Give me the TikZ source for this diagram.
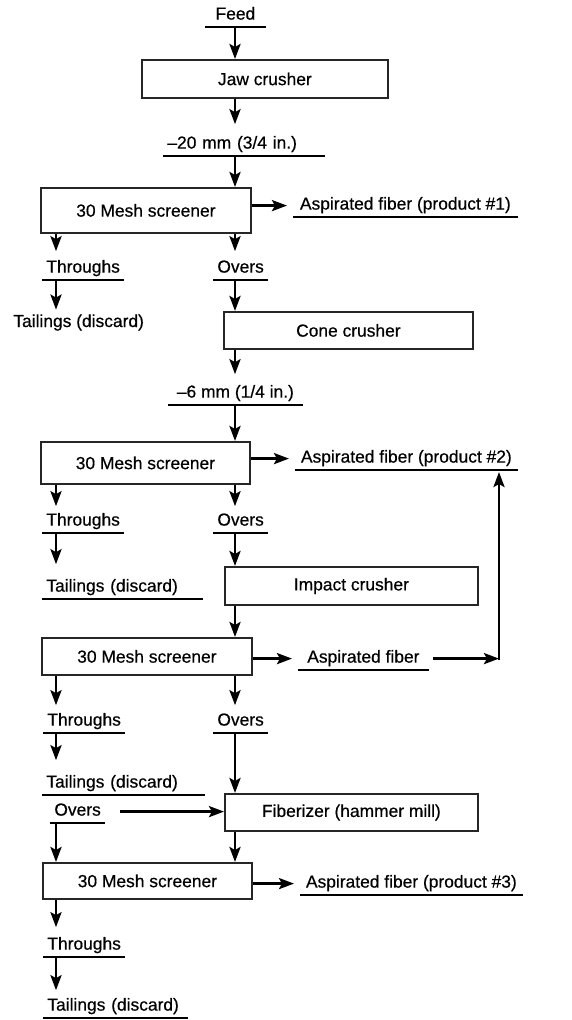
\documentclass[tikz,border=0pt]{standalone}
\usepackage{fontspec}
\setmainfont{Liberation Sans}[FakeBold=0.5]
\usetikzlibrary{arrows.meta}
\newcommand{\fs}{\fontsize{17.4}{20}\selectfont}
\tikzset{every path/.style={line width=2.8pt}, flow/.style={-{Stealth[length=15pt,width=11pt,inset=3pt]}},
  unit/.style={draw=black!85, line width=1.8pt, inner sep=0pt, anchor=north west, font=\fs},
  uline/.style={-, line width=1.6pt},
  lbl/.style={anchor=south west, inner xsep=3pt, inner ysep=1pt, text height=13pt, text depth=5pt, font=\fs,
    append after command={(\tikzlastnode.south west) edge[uline] (\tikzlastnode.south east)}},
  plain/.style={anchor=base west, inner sep=0pt, text height=13pt, text depth=5pt, font=\fs}}

\begin{document}
\begin{tikzpicture}[x=1pt, y=-1pt]
   \useasboundingbox (0,0) rectangle (571,1020);
   \coordinate (trunk) at (235,0);
   \coordinate (lcol) at (56,0);
   \coordinate (bend) at (499,0);

   \node[lbl, minimum width=58pt] (feed) at (205,27) {Feed};
   \node[unit, minimum width=246pt, minimum height=38pt] (jaw) at (141,59) {Jaw crusher};
   \node[lbl, text width=153pt] (mm20) at (163,156) {–20 mm (3/4 in.)};
   \node[unit, minimum width=210pt, minimum height=45pt] (scr1) at (40,187) {30 Mesh screener};
   \node[lbl, minimum width=222pt] (asp1) at (293,217) {Aspirated fiber (product \#1)};
   \node[lbl, minimum width=71pt] (thr1) at (42,280) {Throughs};
   \node[lbl, minimum width=45pt] (ov1) at (213,280) {Overs};
   \node[plain] (tail1) at (12,327) {Tailings (discard)};
   \node[unit, minimum width=249pt, minimum height=37pt] (cone) at (223,311) {Cone crusher};
   \node[lbl, minimum width=132pt] (mm6) at (168,405) {–6 mm (1/4 in.)};
   \node[unit, minimum width=209pt, minimum height=42pt] (scr2) at (40,441) {30 Mesh screener};
   \node[lbl, minimum width=220pt] (asp2) at (295,470) {Aspirated fiber (product \#2)};
   \node[lbl, minimum width=71pt] (thr2) at (42,533) {Throughs};
   \node[lbl, minimum width=45pt] (ov2) at (213,533) {Overs};
   \node[lbl, text width=152pt] (tail2) at (42,599) {Tailings (discard)};
   \node[unit, minimum width=253pt, minimum height=38pt] (impact) at (224,566) {Impact crusher};
   \node[unit, minimum width=210pt, minimum height=37pt] (scr3) at (41,637) {30 Mesh screener};
   \node[lbl, minimum width=128pt] (asp3) at (298,670) {Aspirated fiber};
   \node[lbl, minimum width=71pt] (thr3) at (43,733) {Throughs};
   \node[lbl, minimum width=45pt] (ov3) at (213,733) {Overs};
   \node[lbl, text width=154pt] (tail3) at (42,795) {Tailings (discard)};
   \node[unit, minimum width=253pt, minimum height=37pt] (fib) at (224,793) {Fiberizer (hammer mill)};
   \node[lbl, minimum width=45pt] (ov4) at (50,823) {Overs};
   \node[unit, minimum width=209pt, minimum height=36pt] (scr4) at (42,862) {30 Mesh screener};
   \node[lbl, minimum width=220pt] (asp4) at (300,895) {Aspirated fiber (product \#3)};
   \node[lbl, minimum width=72pt] (thr4) at (43,957) {Throughs};
   \node[lbl, text width=136pt] (tail4) at (43,1018) {Tailings (discard)};

   \draw[flow] (feed.south -| trunk) -- (jaw.north -| trunk);
   \draw[flow, shorten >=9pt] (jaw.south -| trunk) -- (mm20.north -| trunk);
   \draw[flow] (mm20.south -| trunk) -- (scr1.north -| trunk);
   \draw[flow, shorten >=6pt] (scr1.east |- asp1.west) -- (asp1.west);
   \draw[flow, shorten >=6pt] (scr1.south -| lcol) -- (thr1.north -| lcol);
   \draw[flow, shorten >=6pt] (scr1.south -| trunk) -- (ov1.north -| trunk);
   \draw[flow, shorten >=3pt] (thr1.south -| lcol) -- (tail1.north -| lcol);
   \draw[flow] (ov1.south -| trunk) -- (cone.north -| trunk);
   \draw[flow, shorten >=8pt] (cone.south -| trunk) -- (mm6.north -| trunk);
   \draw[flow] (mm6.south -| trunk) -- (scr2.north -| trunk);
   \draw[flow, shorten >=6pt] (scr2.east |- asp2.west) -- (asp2.west);
   \draw[flow, shorten >=4pt] (scr2.south -| lcol) -- (thr2.north -| lcol);
   \draw[flow, shorten >=4pt] (scr2.south -| trunk) -- (ov2.north -| trunk);
   \draw[flow, shorten >=12pt] (thr2.south -| lcol) -- (tail2.north -| lcol);
   \draw[flow] (ov2.south -| trunk) -- (impact.north -| trunk);
   \draw[flow] (impact.south -| trunk) -- (scr3.north -| trunk);
   \draw[flow, shorten >=6pt] (scr3.east |- asp3.west) -- (asp3.west);
   \draw[flow, shorten <=4pt] (asp3.east) -- (asp3.east -| bend);
   \draw[flow, shorten <=-1.4pt, shorten >=2pt] (asp3.east -| bend) -- (asp2.south -| bend);
   \draw[flow, shorten >=5pt] (scr3.south -| lcol) -- (thr3.north -| lcol);
   \draw[flow, shorten >=5pt] (scr3.south -| trunk) -- (ov3.north -| trunk);
   \draw[flow, shorten >=12pt] (thr3.south -| lcol) -- (tail3.north -| lcol);
   \draw[flow] (ov3.south -| trunk) -- (fib.north -| trunk);
   \draw[flow, shorten <=15pt] (ov4.east) -- (ov4.east -| fib.west);
   \draw[flow] (ov4.south -| lcol) -- (scr4.north -| lcol);
   \draw[flow] (fib.south -| trunk) -- (scr4.north -| trunk);
   \draw[flow, shorten >=6pt] (scr4.east |- asp4.west) -- (asp4.west);
   \draw[flow, shorten >=7pt] (scr4.south -| lcol) -- (thr4.north -| lcol);
   \draw[flow, shorten >=5pt] (thr4.south -| lcol) -- (tail4.north -| lcol);
\end{tikzpicture}
\end{document}
